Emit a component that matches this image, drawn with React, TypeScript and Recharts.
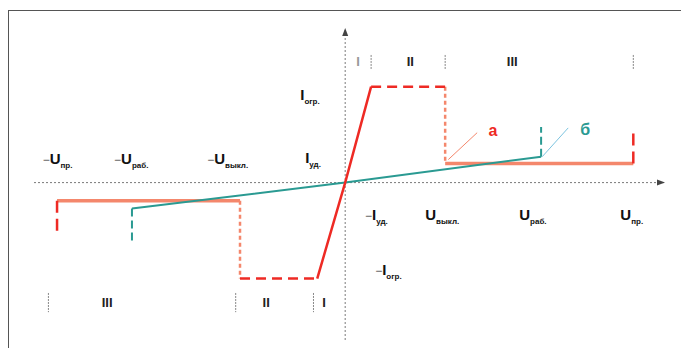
import { LineChart, Line, XAxis, YAxis, ReferenceLine, ReferenceDot } from 'recharts';

// characteristic "а" (red / salmon) and "б" (teal), in relative units
const redSteep = [{ x: -9.7, y: -10 }, { x: 0, y: 0 }, { x: 9, y: 10 }];
const redLimitPos = [{ x: 9, y: 10 }, { x: 34.7, y: 10 }];
const redLimitNeg = [{ x: -36.5, y: -10 }, { x: -9.7, y: -10 }];
const dropPos = [{ x: 34.7, y: 10 }, { x: 34.7, y: 2 }];
const dropNeg = [{ x: -36.5, y: -1.9 }, { x: -36.5, y: -10 }];
const holdPos = [{ x: 34.7, y: 2 }, { x: 100, y: 2 }];
const holdNeg = [{ x: -100, y: -1.9 }, { x: -36.5, y: -1.9 }];
const breakPos = [{ x: 100, y: 2 }, { x: 100, y: 5.3 }];
const breakNeg = [{ x: -100, y: -1.9 }, { x: -100, y: -5.2 }];
const tealMain = [{ x: -74, y: -2.7 }, { x: 0, y: 0 }, { x: 68, y: 2.7 }];
const tealUpPos = [{ x: 68, y: 2.7 }, { x: 68, y: 5.8 }];
const tealUpNeg = [{ x: -74, y: -2.7 }, { x: -74, y: -6.1 }];
const leaderA = [{ x: 45.8, y: 5.2 }, { x: 35.8, y: 2.4 }];
const leaderB = [{ x: 77.4, y: 5.7 }, { x: 68.4, y: 2.7 }];

const X_DOMAIN = [-108, 111];
const Y_DOMAIN = [-16.4, 15.9];

// axis labels: x, y, prefix, letter, subscript
const axisLabels = [
  { x: -15.6, y: 8.6, pre: '', main: 'I', sub: 'огр.' },
  { x: -13.9, y: 2.0, pre: '', main: 'I', sub: 'уд.' },
  { x: 6.9, y: -3.85, pre: '−', main: 'I', sub: 'уд.' },
  { x: 27.8, y: -3.85, pre: '', main: 'U', sub: 'выкл.' },
  { x: 60.4, y: -3.85, pre: '', main: 'U', sub: 'раб.' },
  { x: 95.5, y: -3.85, pre: '', main: 'U', sub: 'пр.' },
  { x: 10.4, y: -9.6, pre: '−', main: 'I', sub: 'огр.' },
  { x: -105, y: 1.9, pre: '−', main: 'U', sub: 'пр.' },
  { x: -80.2, y: 1.9, pre: '−', main: 'U', sub: 'раб.' },
  { x: -47.9, y: 1.9, pre: '−', main: 'U', sub: 'выкл.' },
];

// region dividers and numerals
const topDividers = [9, 34.7, 100];
const bottomDividers = [-103, -38, -11];
const topRegions = [
  { x: 4.5, name: 'I', faint: true },
  { x: 22.6, name: 'II', faint: false },
  { x: 58, name: 'III', faint: false },
];
const bottomRegions = [
  { x: -82.6, name: 'III', faint: false },
  { x: -27.4, name: 'II', faint: false },
  { x: -7.3, name: 'I', faint: false },
];
const curveNames = [
  { x: 49.7, y: 4.9, name: 'а', color: '#ee2a24' },
  { x: 81.6, y: 5.0, name: 'б', color: '#2a9a92' },
];

const RED = '#ee2a24';
const SALMON = '#f4876c';
const TEAL = '#2a9a92';
const AXIS = '#7a7a7a';
const FONT = '"Liberation Sans", Arial, sans-serif';

function seg(data: { x: number; y: number }[], color: string, width: number, dash?: string, key?: string) {
  return (
    <Line
      key={key}
      data={data}
      dataKey="y"
      type="linear"
      stroke={color}
      strokeWidth={width}
      strokeDasharray={dash}
      dot={false}
      activeDot={false}
      isAnimationActive={false}
    />
  );
}

export default function App() {
  return (
    <div style={{ position: 'fixed', left: 0, top: 0, width: 681, height: 348, background: '#fff', overflow: 'hidden' }}>
      <div
        style={{
          position: 'absolute',
          left: 8,
          top: 10,
          width: 760,
          height: 420,
          borderTop: '1.5px solid #555',
          borderLeft: '1.5px solid #555',
        }}
      />
      <div style={{ position: 'absolute', left: 0, top: 0 }}>
        <LineChart width={681} height={348} margin={{ top: 30, right: 16, bottom: 8, left: 34 }}>
          <XAxis type="number" dataKey="x" domain={X_DOMAIN} hide allowDataOverflow />
          <YAxis type="number" domain={Y_DOMAIN} hide allowDataOverflow />
          <ReferenceLine x={0} stroke={AXIS} strokeDasharray="2 2" />
          <ReferenceLine y={0} stroke={AXIS} strokeDasharray="2 2" />
          <ReferenceDot
            x={X_DOMAIN[1]}
            y={0}
            r={0}
            shape={(p: any) => (
              <path d={`M${p.cx},${p.cy} l-8,-3 l0,6 z`} fill="#444" />
            )}
          />
          <ReferenceDot
            x={0}
            y={Y_DOMAIN[1]}
            r={0}
            shape={(p: any) => (
              <path d={`M${p.cx},${p.cy - 2} l-3,8 l6,0 z`} fill="#444" />
            )}
          />

          {topDividers.map((x) => (
            <ReferenceLine
              key={`td${x}`}
              segment={[{ x, y: 13.3 }, { x, y: 11.8 }]}
              stroke="#888"
              strokeDasharray="2 1"
            />
          ))}
          {bottomDividers.map((x) => (
            <ReferenceLine
              key={`bd${x}`}
              segment={[{ x, y: -11.5 }, { x, y: -13.5 }]}
              stroke="#888"
              strokeDasharray="2 1"
            />
          ))}

          {seg(holdPos, SALMON, 3.5, undefined, 'hp')}
          {seg(holdNeg, SALMON, 3.5, undefined, 'hn')}
          {seg(dropPos, SALMON, 2.5, '4 3', 'dp')}
          {seg(dropNeg, SALMON, 2.5, '4 3', 'dn')}
          {seg(redLimitPos, RED, 2.5, '10 6', 'lp')}
          {seg(redLimitNeg, RED, 2.5, '10 6', 'ln')}
          {seg(breakPos, RED, 2.5, '12 6', 'bp')}
          {seg(breakNeg, RED, 2.5, '12 6', 'bn')}
          {seg(tealMain, TEAL, 2, undefined, 'tm')}
          {seg(redSteep, RED, 2.5, undefined, 'rs')}
          {seg(tealUpPos, TEAL, 2, '8 4', 'tp')}
          {seg(tealUpNeg, TEAL, 2, '8 4', 'tn')}
          {seg(leaderA, SALMON, 1, undefined, 'la')}
          {seg(leaderB, '#7cc4e0', 1, undefined, 'lb')}

          {axisLabels.map((l, i) => (
            <ReferenceDot
              key={`al${i}`}
              x={l.x}
              y={l.y}
              r={0}
              shape={(p: any) => (
                <text x={p.cx} y={p.cy} fontFamily={FONT} fill="#111" fontSize={15} fontWeight="bold">
                  {l.pre && <tspan fontSize={12} fontWeight="normal" fill="#555">{l.pre}</tspan>}
                  <tspan>{l.main}</tspan>
                  <tspan dy={4} fontSize={8}>{l.sub}</tspan>
                </text>
              )}
            />
          ))}
          {topRegions.map((r) => (
            <ReferenceDot
              key={`tr${r.x}`}
              x={r.x}
              y={12.1}
              r={0}
              shape={(p: any) => (
                <text x={p.cx} y={p.cy} textAnchor="middle" fontFamily={FONT} fontSize={13} fontWeight="bold" fill={r.faint ? '#999' : '#222'}>
                  {r.name}
                </text>
              )}
            />
          ))}
          {bottomRegions.map((r) => (
            <ReferenceDot
              key={`br${r.x}`}
              x={r.x}
              y={-13}
              r={0}
              shape={(p: any) => (
                <text x={p.cx} y={p.cy} textAnchor="middle" fontFamily={FONT} fontSize={13} fontWeight="bold" fill="#222">
                  {r.name}
                </text>
              )}
            />
          ))}
          {curveNames.map((c) => (
            <ReferenceDot
              key={`cn${c.name}`}
              x={c.x}
              y={c.y}
              r={0}
              shape={(p: any) => (
                <text x={p.cx} y={p.cy} fontFamily={FONT} fontSize={16} fontWeight="bold" fill={c.color}>
                  {c.name}
                </text>
              )}
            />
          ))}
        </LineChart>
      </div>
    </div>
  );
}
